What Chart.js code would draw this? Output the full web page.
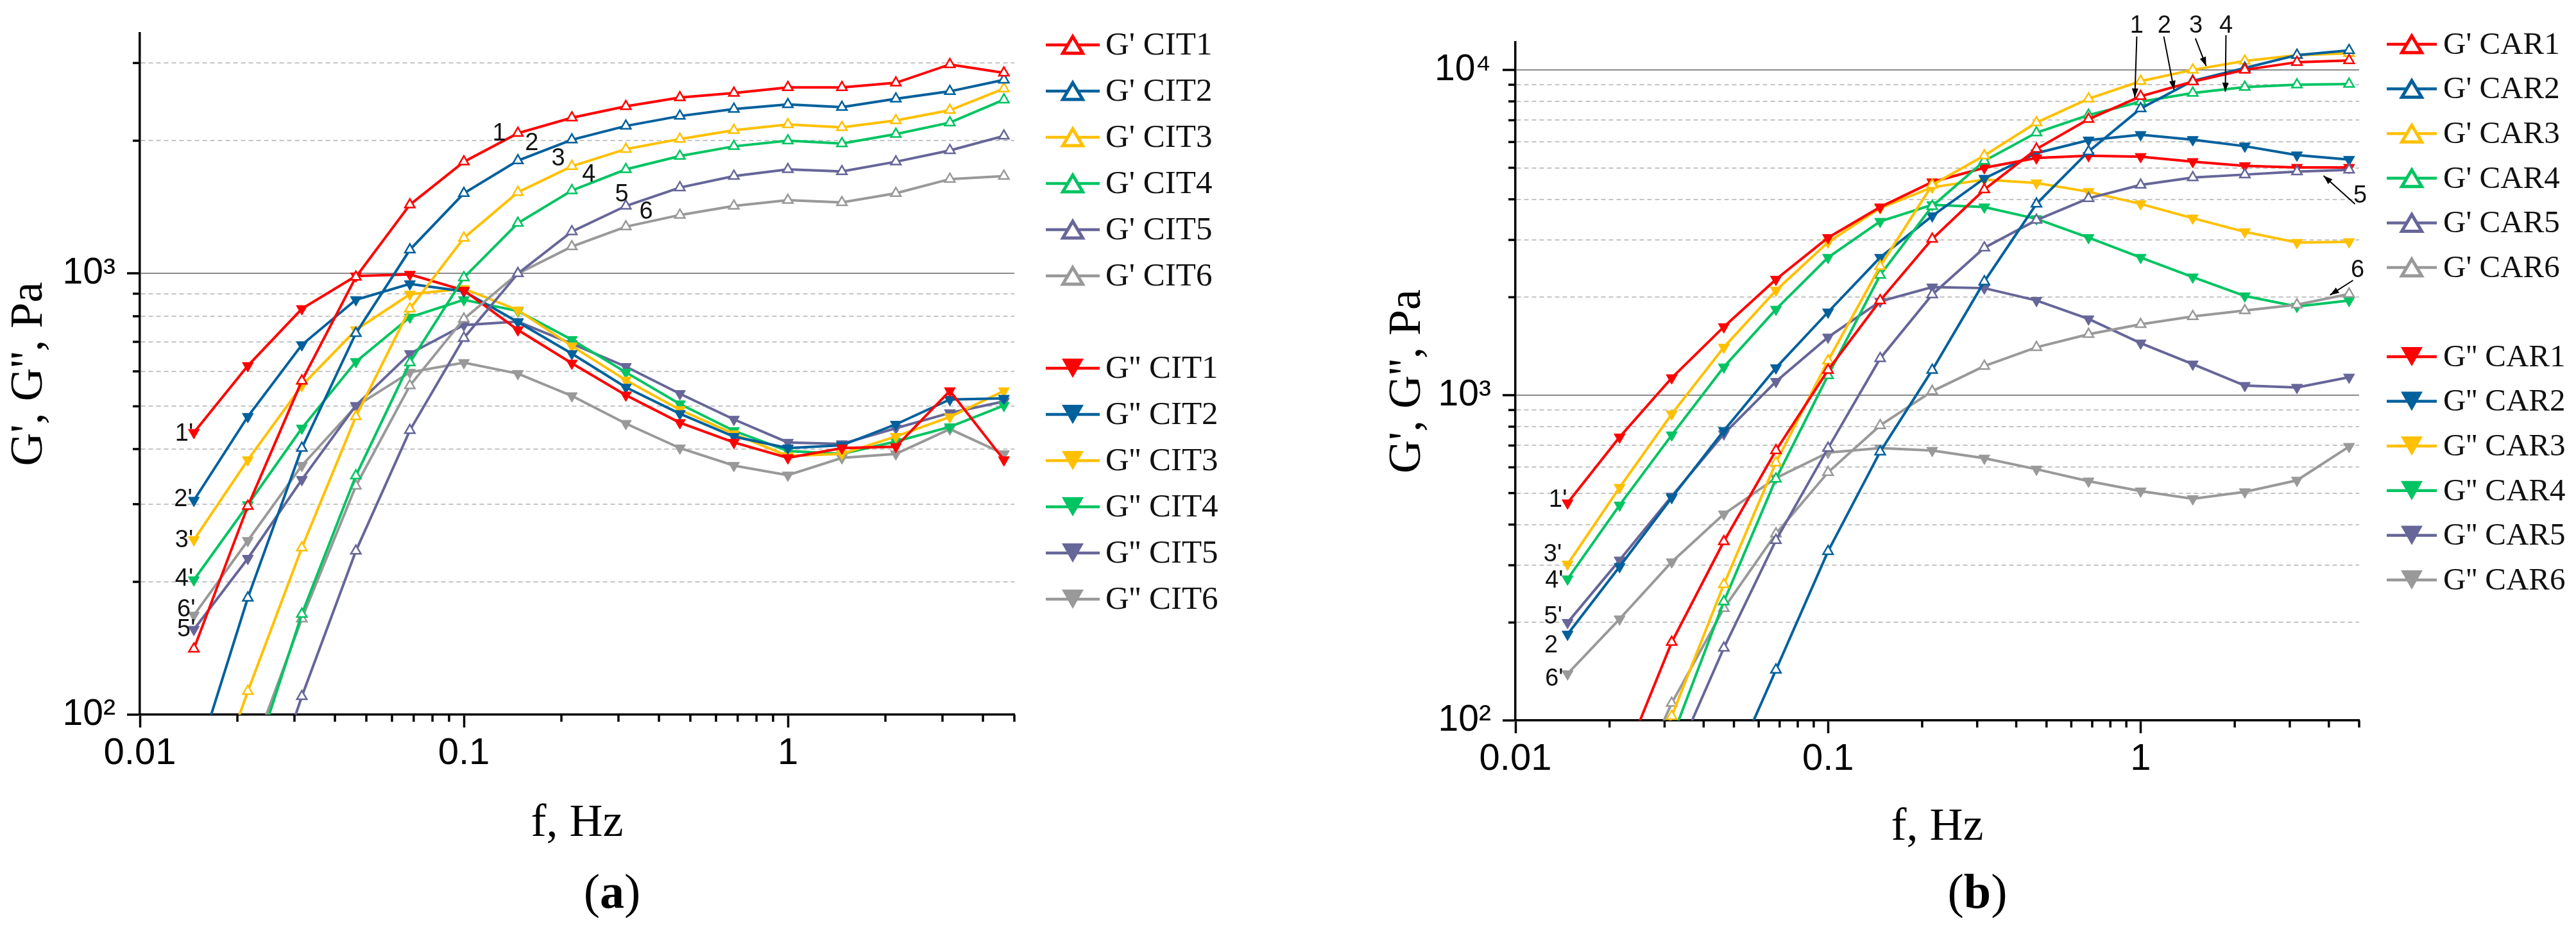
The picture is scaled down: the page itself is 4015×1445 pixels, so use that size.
<!DOCTYPE html>
<html>
<head>
<meta charset="utf-8">
<title>G', G'' vs f</title>
<script src="https://cdn.jsdelivr.net/npm/chart.js@4.4.1/dist/chart.umd.min.js"></script>
<style>
  html, body { margin: 0; padding: 0; background: #fff; }
  #wrap { position: relative; width: 4015px; height: 1445px; }
  .panel { position: absolute; top: 0; height: 1445px; }
  #panelA { left: 0; width: 2020px; }
  #panelB { left: 2020px; width: 1995px; }
</style>
</head>
<body>
<div id="wrap">
  <div class="panel" id="panelA"><canvas id="chartA"></canvas></div>
  <div class="panel" id="panelB"><canvas id="chartB"></canvas></div>
</div>
<script>
// ---- data ----
const freq = [0.01468, 0.02154, 0.03162, 0.04642, 0.06813, 0.1, 0.1468, 0.2154,
              0.3162, 0.4642, 0.6813, 1, 1.468, 2.154, 3.162, 4.642];

// panel (a) - CIT
const gpCit1 = [141, 297, 571, 982, 1432, 1792, 2080, 2255, 2393, 2505, 2566, 2642, 2642, 2706, 2978, 2850];
const gpCit2 = [75, 184, 402, 732, 1132, 1520, 1803, 2010, 2160, 2275, 2360, 2417, 2383, 2489, 2588, 2748];
const gpCit3 = [51, 113, 239, 474, 832, 1204, 1528, 1750, 1914, 2018, 2112, 2177, 2145, 2223, 2345, 2624];
const gpCit4 = [25, 71, 169, 348, 628, 979, 1301, 1542, 1722, 1846, 1942, 2000, 1971, 2070, 2198, 2477];
const gpCit5 = [25, 48, 110, 235, 441, 714, 1000, 1245, 1423, 1566, 1663, 1722, 1703, 1792, 1901, 2051];
const gpCit6 = [32, 77, 165, 330, 557, 789, 1000, 1151, 1277, 1357, 1423, 1466, 1449, 1520, 1637, 1663];

const gppCit1 = [436, 618, 832, 987, 995, 916, 745, 626, 530, 459, 414, 382, 402, 405, 542, 378];
const gppCit2 = [306, 474, 689, 872, 947, 911, 776, 658, 552, 481, 427, 402, 408, 455, 518, 521];
const gppCit3 = [249, 378, 557, 745, 897, 924, 826, 685, 573, 491, 433, 386, 390, 427, 473, 542];
const gppCit4 = [202, 299, 446, 631, 796, 872, 822, 708, 597, 506, 440, 396, 390, 416, 449, 502];
const gppCit5 = [156, 226, 341, 502, 658, 764, 778, 693, 615, 534, 467, 414, 411, 446, 483, 513];
const gppCit6 = [168, 248, 367, 500, 597, 628, 593, 528, 457, 402, 367, 349, 382, 390, 444, 390];

// panel (b) - CAR
const gpCar1 = [40, 70, 174, 355, 676, 1194, 1954, 3020, 4285, 5708, 7050, 8295, 9200, 10000, 10560, 10690];
const gpCar2 = [12, 20, 35, 62, 143, 331, 670, 1194, 2234, 3873, 5611, 7604, 9250, 10130, 11100, 11480];
const gpCar3 = [15, 37, 103, 262, 620, 1276, 2490, 4427, 5450, 6885, 8150, 9230, 10000, 10650, 11100, 11250];
const gpCar4 = [14, 35, 88, 232, 553, 1150, 2339, 3810, 5250, 6412, 7262, 7980, 8490, 8850, 9000, 9040];
const gpCar5 = [13, 30, 72, 167, 358, 687, 1297, 2038, 2839, 3452, 4027, 4427, 4667, 4765, 4864, 4930];
const gpCar6 = [22, 50, 113, 221, 375, 579, 807, 1028, 1228, 1403, 1539, 1651, 1746, 1820, 1897, 2047];

const gppCar1 = [466, 743, 1130, 1622, 2270, 3049, 3785, 4520, 5000, 5360, 5445, 5410, 5220, 5070, 5010, 5010];
const gppCar2 = [184, 297, 484, 778, 1213, 1800, 2650, 3556, 4637, 5545, 6080, 6320, 6100, 5826, 5470, 5300];
const gppCar3 = [302, 520, 875, 1403, 2099, 2953, 3760, 4357, 4595, 4490, 4220, 3872, 3500, 3177, 2946, 2960];
const gppCar4 = [272, 459, 754, 1220, 1836, 2650, 3420, 3846, 3785, 3484, 3049, 2650, 2306, 2018, 1874, 1953];
const gppCar5 = [200, 311, 489, 760, 1101, 1507, 1942, 2148, 2133, 1954, 1715, 1445, 1245, 1070, 1056, 1135];
const gppCar6 = [139, 205, 307, 431, 556, 666, 687, 676, 640, 592, 544, 507, 480, 504, 547, 695];

// ticks
const xTicks = [0.01, 0.02, 0.03, 0.04, 0.05, 0.06, 0.07, 0.08, 0.09,
                0.1, 0.2, 0.3, 0.4, 0.5, 0.6, 0.7, 0.8, 0.9, 1, 2, 3, 4, 5];
const xTickLabels = { 0.01: '0.01', 0.1: '0.1', 1: '1' };
const yTicksA = [100, 200, 300, 400, 500, 600, 700, 800, 900, 1000, 2000, 3000];
const yTicksB = [100, 200, 300, 400, 500, 600, 700, 800, 900,
                 1000, 2000, 3000, 4000, 5000, 6000, 7000, 8000, 9000, 10000];
const yTickLabels = { 100: '10\u00B2', 1000: '10\u00B3', 10000: '10\u2074' };

// text labels next to the curves, in data units [f, value, text]
const notesA = [
  [0.1285, 2075, '1'], [0.162, 1972, '2'], [0.1955, 1820, '3'],
  [0.243, 1671, '4'], [0.307, 1511, '5'], [0.365, 1380, '6'],
  [0.0137, 433, "1'"], [0.0136, 307, "2'"], [0.0137, 248, "3'"],
  [0.0137, 203, "4'"], [0.0139, 173, "6'"], [0.0139, 156, "5'"]
];
const notesB = [
  [0.01368, 475, "1'"], [0.01315, 323, "3'"], [0.0133, 268, "4'"],
  [0.0132, 208, "5'"], [0.0130, 170, '2'], [0.0133, 134, "6'"],
  [0.972, 13620, '1'], [1.191, 13620, '2'], [1.502, 13620, '3'], [1.875, 13620, '4'],
  [5.04, 4087, '5'], [4.94, 2413, '6']
];
// arrows [f1, v1, f2, v2]
const arrowsB = [
  [0.972, 12665, 0.958, 8225], [1.186, 12665, 1.279, 8686],
  [1.497, 12490, 1.620, 10276], [1.875, 12780, 1.866, 8570],
  [4.85, 3870, 3.848, 4727], [4.78, 2254, 4.035, 2031]
];

const colors = ['#ff0000', '#00609c', '#ffc000', '#00c462', '#666699', '#999999'];

// ---- helpers ----
function isDecade(v) {
  if (!v) return false;
  const l = Math.log10(v);
  return Math.abs(l - Math.round(l)) < 1e-9;
}

function series(label, values, color, filled) {
  return {
    label: label,
    data: freq.map((f, i) => ({ x: f, y: values[i] })),
    borderColor: color,
    backgroundColor: color,
    borderWidth: 4,
    pointStyle: 'triangle',
    pointRotation: filled ? 180 : 0,
    pointRadius: filled ? 10 : 9,
    pointBackgroundColor: filled ? color : '#ffffff',
    pointBorderColor: color,
    pointBorderWidth: filled ? 1 : 2.5,
    tension: 0,
    fill: false,
    clip: 0,
    filled: filled
  };
}

function makeDatasets(tag, gpLists, gppLists) {
  const sets = [];
  gpLists.forEach((vals, i) => sets.push(series("G' " + tag + (i + 1), vals, colors[i], false)));
  gppLists.forEach((vals, i) => sets.push(series("G'' " + tag + (i + 1), vals, colors[i], true)));
  return sets;
}

function drawTri(ctx, x, y, w, h, down, color, filled, lw) {
  ctx.beginPath();
  if (down) {
    ctx.moveTo(x - w / 2, y - h / 2);
    ctx.lineTo(x + w / 2, y - h / 2);
    ctx.lineTo(x, y + h / 2);
  } else {
    ctx.moveTo(x, y - h / 2);
    ctx.lineTo(x + w / 2, y + h / 2);
    ctx.lineTo(x - w / 2, y + h / 2);
  }
  ctx.closePath();
  if (filled) {
    ctx.fillStyle = color;
    ctx.fill();
  } else {
    ctx.fillStyle = '#ffffff';
    ctx.fill();
    ctx.lineWidth = lw;
    ctx.strokeStyle = color;
    ctx.lineJoin = 'miter';
    ctx.stroke();
  }
}

// minor ticks, legend, notes, arrows and panel letter
const extrasPlugin = {
  id: 'extras',
  afterDraw(chart, args, opts) {
    const ctx = chart.ctx;
    const xs = chart.scales.x, ys = chart.scales.y;
    const area = chart.chartArea;

    // short minor ticks
    ctx.save();
    ctx.strokeStyle = '#000';
    ctx.lineWidth = 3.5;
    xs.ticks.forEach(t => {
      if (isDecade(t.value)) return;
      const px = xs.getPixelForValue(t.value);
      ctx.beginPath(); ctx.moveTo(px, area.bottom); ctx.lineTo(px, area.bottom + 11); ctx.stroke();
    });
    ys.ticks.forEach(t => {
      if (isDecade(t.value)) return;
      const py = ys.getPixelForValue(t.value);
      ctx.beginPath(); ctx.moveTo(area.left - 11, py); ctx.lineTo(area.left, py); ctx.stroke();
    });
    ctx.restore();

    // legend
    const lg = opts.legend;
    ctx.save();
    chart.data.datasets.forEach((ds, i) => {
      const row = i % 6;
      const y = (ds.filled ? lg.y2 : lg.y1) + row * lg.step;
      ctx.strokeStyle = ds.borderColor;
      ctx.lineWidth = 4.5;
      ctx.beginPath(); ctx.moveTo(lg.x0, y); ctx.lineTo(lg.x1, y); ctx.stroke();
      const mx = (lg.x0 + lg.x1) / 2;
      if (ds.filled) drawTri(ctx, mx, y, 34, 30, true, ds.borderColor, true, 0);
      else drawTri(ctx, mx, y, 31, 26, false, ds.borderColor, false, 5);
      ctx.fillStyle = '#111';
      ctx.font = lg.size + 'px "Liberation Serif"';
      ctx.textAlign = 'left';
      ctx.textBaseline = 'middle';
      ctx.fillText(ds.label, lg.tx, y + 2);
    });
    ctx.restore();

    // arrows
    ctx.save();
    ctx.strokeStyle = '#000';
    ctx.fillStyle = '#000';
    ctx.lineWidth = 2;
    (opts.arrows || []).forEach(a => {
      const x1 = xs.getPixelForValue(a[0]), y1 = ys.getPixelForValue(a[1]);
      const x2 = xs.getPixelForValue(a[2]), y2 = ys.getPixelForValue(a[3]);
      const ang = Math.atan2(y2 - y1, x2 - x1);
      ctx.beginPath(); ctx.moveTo(x1, y1); ctx.lineTo(x2, y2); ctx.stroke();
      ctx.beginPath();
      ctx.moveTo(x2, y2);
      ctx.lineTo(x2 - 14 * Math.cos(ang) + 5 * Math.sin(ang), y2 - 14 * Math.sin(ang) - 5 * Math.cos(ang));
      ctx.lineTo(x2 - 14 * Math.cos(ang) - 5 * Math.sin(ang), y2 - 14 * Math.sin(ang) + 5 * Math.cos(ang));
      ctx.closePath();
      ctx.fill();
    });
    ctx.restore();

    // curve numbers
    ctx.save();
    ctx.fillStyle = '#111';
    ctx.font = '38px "Liberation Sans"';
    ctx.textAlign = 'center';
    ctx.textBaseline = 'middle';
    (opts.notes || []).forEach(n => {
      ctx.fillText(n[2], xs.getPixelForValue(n[0]), ys.getPixelForValue(n[1]));
    });
    ctx.restore();

    // panel letter "(a)" with bold letter
    const p = opts.panel;
    ctx.save();
    ctx.fillStyle = '#000';
    ctx.textBaseline = 'middle';
    ctx.textAlign = 'left';
    const normal = '76px "Liberation Serif"', bold = 'bold 76px "Liberation Serif"';
    ctx.font = normal; const wOpen = ctx.measureText('(').width, wClose = ctx.measureText(')').width;
    ctx.font = bold; const wLetter = ctx.measureText(p.text).width;
    let x = p.x - (wOpen + wLetter + wClose) / 2;
    ctx.font = normal; ctx.fillText('(', x, p.y); x += wOpen;
    ctx.font = bold; ctx.fillText(p.text, x, p.y); x += wLetter;
    ctx.font = normal; ctx.fillText(')', x, p.y);
    ctx.restore();
  }
};

function buildOptions(cfg) {
  return {
    responsive: true,
    maintainAspectRatio: false,
    devicePixelRatio: 1,
    animation: false,
    events: [],
    layout: { padding: cfg.padding },
    plugins: {
      legend: { display: false },
      tooltip: { enabled: false },
      extras: { legend: cfg.legend, notes: cfg.notes, arrows: cfg.arrows, panel: cfg.panel }
    },
    scales: {
      x: {
        type: 'logarithmic',
        min: 0.01,
        max: 5,
        afterBuildTicks: s => { s.ticks = xTicks.map(v => ({ value: v })); },
        afterFit: s => { s.height = cfg.xAxisHeight; },
        ticks: {
          autoSkip: false, maxRotation: 0, minRotation: 0, padding: 6,
          color: '#000',
          font: { family: 'Liberation Sans', size: 58 },
          callback: v => xTickLabels[v] || ''
        },
        grid: {
          color: 'rgba(0,0,0,0)',
          drawTicks: true,
          tickLength: 20,
          tickWidth: 3.5,
          tickColor: c => (c.tick && isDecade(c.tick.value)) ? '#000' : 'rgba(0,0,0,0)'
        },
        border: { color: '#000', width: 3.5 },
        title: {
          display: true, text: 'f, Hz', color: '#000',
          font: { family: 'Liberation Serif', size: 72 },
          padding: { top: 0, bottom: cfg.xTitlePad }
        }
      },
      y: {
        type: 'logarithmic',
        min: 100,
        max: cfg.yMax,
        afterBuildTicks: s => { s.ticks = cfg.yTicks.map(v => ({ value: v })); },
        afterFit: s => { s.width = cfg.yAxisWidth; },
        ticks: {
          autoSkip: false, padding: 18,
          color: '#000',
          font: { family: 'Liberation Sans', size: 57 },
          callback: v => yTickLabels[v] || ''
        },
        grid: {
          color: c => (c.tick && isDecade(c.tick.value)) ? '#8a8a8a' : '#c4c4c4',
          lineWidth: 2,
          drawTicks: true,
          tickLength: 20,
          tickWidth: 3.5,
          tickColor: c => (c.tick && isDecade(c.tick.value)) ? '#000' : 'rgba(0,0,0,0)'
        },
        border: {
          color: '#000', width: 3.5,
          dash: c => (c.tick && !isDecade(c.tick.value)) ? [7, 5] : []
        },
        title: {
          display: true, text: "G', G'', Pa", color: '#000',
          font: { family: 'Liberation Serif', size: 72 },
          padding: { top: cfg.yTitlePad, bottom: 0 }
        }
      }
    }
  };
}

// ---- charts ----
new Chart(document.getElementById('chartA'), {
  type: 'line',
  data: {
    datasets: makeDatasets('CIT',
      [gpCit1, gpCit2, gpCit3, gpCit4, gpCit5, gpCit6],
      [gppCit1, gppCit2, gppCit3, gppCit4, gppCit5, gppCit6])
  },
  options: buildOptions({
    padding: { left: 0, top: 18, right: 439, bottom: 0 },
    yAxisWidth: 218, xAxisHeight: 331,
    xTitlePad: 118, yTitlePad: 3,
    yMax: 3500, yTicks: yTicksA,
    legend: { x0: 1630, x1: 1714, tx: 1723, y1: 70, y2: 574, step: 72, size: 51 },
    notes: notesA, arrows: [],
    panel: { text: 'a', x: 954, y: 1395 }
  }),
  plugins: [extrasPlugin]
});

new Chart(document.getElementById('chartB'), {
  type: 'line',
  data: {
    datasets: makeDatasets('CAR',
      [gpCar1, gpCar2, gpCar3, gpCar4, gpCar5, gpCar6],
      [gppCar1, gppCar2, gppCar3, gppCar4, gppCar5, gppCar6])
  },
  options: buildOptions({
    padding: { left: 0, top: 66, right: 338, bottom: 0 },
    yAxisWidth: 342, xAxisHeight: 322,
    xTitlePad: 112, yTitlePad: 131,
    yMax: 12150, yTicks: yTicksB,
    legend: { x0: 1700, x1: 1778, tx: 1788, y1: 69, y2: 556, step: 69.6, size: 49 },
    notes: notesB, arrows: arrowsB,
    panel: { text: 'b', x: 1062, y: 1395 }
  }),
  plugins: [extrasPlugin]
});
</script>
</body>
</html>
